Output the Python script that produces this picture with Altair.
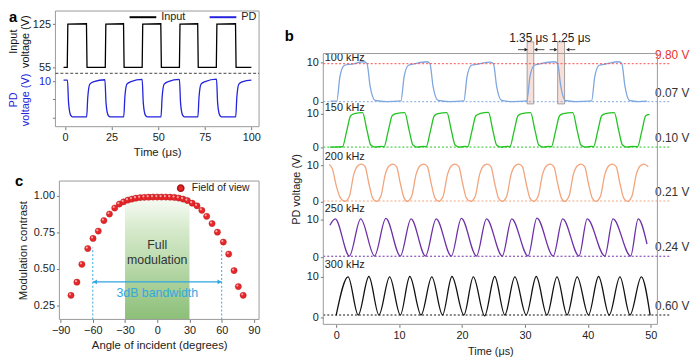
import altair as alt
import pandas as pd

# ---------------- data ----------------
# Panel a : input drive (V) and photodetector response (V) versus time (us)
a_input_t = [-0.8, 1.2, 1.5, 11.5, 11.8, 21.6, 21.9, 31.4, 31.7, 41.4, 41.7, 51.4, 51.7,
             61.4, 61.7, 71.2, 71.5, 81.2, 81.5, 91.5, 91.8, 100.0]
a_input_v = [55, 55, 125.5, 126, 55, 55, 125.5, 126, 55, 55, 125.5, 126, 55,
             55, 125.5, 126, 55, 55, 125.5, 126, 55, 55]
a_pd_t = [-0.8, 1.3, 1.9, 3.0, 4.0, 11.6, 12.2, 13.3, 15.5, 21.4, 22.0, 23.1, 24.1,
          31.5, 32.1, 33.2, 35.4, 41.4, 42.0, 43.1, 44.1, 51.5, 52.1, 53.2, 55.4,
          61.4, 62.0, 63.1, 64.1, 71.3, 71.9, 73.0, 75.2, 81.3, 81.9, 83.0, 84.0,
          91.6, 92.2, 93.3, 95.5, 100.0]
a_pd_v = [10.3, 10.3, 4.0, 0.6, 0.1, 0.1, 5.5, 9.2, 9.9, 10.4, 4.0, 0.6, 0.1,
          0.1, 5.5, 9.2, 9.9, 10.5, 4.0, 0.6, 0.1, 0.1, 5.5, 9.2, 9.9,
          10.5, 4.0, 0.6, 0.1, 0.1, 5.5, 9.2, 9.9, 10.6, 4.0, 0.6, 0.1,
          0.1, 5.5, 9.2, 9.9, 10.3]
a_x_ticks = [0, 25, 50, 75, 100]
a_series = ["Input", "PD"]

# Panel b : PD voltage at five modulation frequencies
b100_t = [-0.9,
          0.1, 0.6, 1.3, 2.5, 4.4, 4.9, 5.4, 6.2, 8.0,
          10.3, 10.8, 11.5, 12.5, 14.4, 14.9, 15.4, 16.2, 18.0,
          20.3, 20.8, 21.5, 22.5, 24.5, 25.0, 25.5, 26.3, 28.0,
          30.3, 30.8, 31.5, 32.5, 34.7, 35.2, 35.7, 36.4, 38.0,
          40.6, 41.1, 41.8, 42.8, 44.9, 45.4, 45.9, 46.6, 48.0,
          49.4]
b100_v = [0.2,
          0.2, 6.5, 9.4, 9.7, 10.3, 9.8, 4.0, 0.4, 0.1,
          0.3, 6.5, 9.4, 9.8, 10.3, 9.8, 4.0, 0.4, 0.1,
          0.3, 6.5, 9.4, 9.7, 10.2, 9.8, 4.0, 0.4, 0.1,
          0.3, 6.5, 9.4, 9.8, 10.3, 9.8, 4.0, 0.4, 0.1,
          0.3, 6.5, 9.4, 9.7, 10.3, 9.8, 4.0, 0.4, 0.1,
          0.2]
b150_t = [-1.0,
          1.0, 1.7, 2.3, 2.9, 4.2, 4.9, 5.5, 6.2, 7.2,
          7.6, 8.3, 8.9, 9.5, 10.9, 11.6, 12.2, 12.9, 13.9,
          14.3, 15.0, 15.6, 16.2, 17.6, 18.3, 18.9, 19.6, 20.6,
          20.9, 21.6, 22.2, 22.8, 24.2, 24.9, 25.5, 26.2, 27.2,
          27.6, 28.3, 28.9, 29.5, 30.9, 31.6, 32.2, 32.9, 33.9,
          34.2, 34.9, 35.5, 36.1, 37.6, 38.3, 38.9, 39.6, 40.6,
          40.9, 41.6, 42.2, 42.8, 44.2, 44.9, 45.5, 46.2, 47.2,
          47.9, 48.6, 49.2, 49.8]
b150_v = [0.1,
          0.2, 5.0, 9.3, 9.9, 10.2, 5.0, 0.7, 0.1, 0.3,
          0.2, 5.0, 9.3, 9.9, 10.2, 5.0, 0.7, 0.1, 0.3,
          0.2, 5.0, 9.3, 9.9, 10.2, 5.0, 0.7, 0.1, 0.3,
          0.2, 5.0, 9.3, 9.9, 10.3, 5.0, 0.7, 0.1, 0.3,
          0.2, 5.0, 9.3, 9.9, 10.2, 5.0, 0.7, 0.1, 0.3,
          0.2, 5.0, 9.3, 9.9, 10.2, 5.0, 0.7, 0.1, 0.3,
          0.2, 5.0, 9.3, 9.9, 10.2, 5.0, 0.7, 0.1, 0.3,
          0.2, 5.0, 9.3, 9.7]
b200_t = [-1.1, -0.6, 0.0, 0.7,
          1.4, 2.1, 2.8, 3.4, 4.0, 4.6, 5.2, 5.8,
          6.4, 7.1, 7.8, 8.4, 9.0, 9.6, 10.2, 10.8,
          11.3, 12.0, 12.7, 13.3, 13.9, 14.5, 15.1, 15.7,
          16.3, 17.0, 17.7, 18.3, 18.9, 19.5, 20.1, 20.7,
          21.4, 22.1, 22.8, 23.4, 24.0, 24.6, 25.2, 25.8,
          26.4, 27.1, 27.8, 28.4, 29.0, 29.6, 30.2, 30.8,
          31.4, 32.1, 32.8, 33.4, 34.0, 34.6, 35.2, 35.8,
          36.3, 37.0, 37.7, 38.3, 38.9, 39.5, 40.1, 40.7,
          41.3, 42.0, 42.7, 43.3, 43.9, 44.5, 45.1, 45.7,
          46.3, 47.0, 47.7, 48.3, 48.9, 49.6]
b200_v = [10.2, 9.0, 4.5, 1.0,
          0.1, 1.5, 7.5, 9.8, 10.3, 9.6, 5.0, 1.0,
          0.1, 1.5, 7.5, 9.8, 10.3, 9.6, 5.0, 1.0,
          0.1, 1.5, 7.5, 9.8, 10.3, 9.6, 5.0, 1.0,
          0.1, 1.5, 7.5, 9.8, 10.3, 9.6, 5.0, 1.0,
          0.1, 1.5, 7.5, 9.8, 10.3, 9.6, 5.0, 1.0,
          0.1, 1.5, 7.5, 9.8, 10.3, 9.6, 5.0, 1.0,
          0.1, 1.5, 7.5, 9.8, 10.3, 9.6, 5.0, 1.0,
          0.1, 1.5, 7.5, 9.8, 10.3, 9.6, 5.0, 1.0,
          0.1, 1.5, 7.5, 9.8, 10.3, 9.6, 5.0, 1.0,
          0.1, 1.5, 7.5, 9.8, 10.3, 9.6]
b250_t = [-1.0, -0.15, 2.1, 3.9, 6.1, 7.9, 10.2, 11.9, 14.2, 15.9, 18.3, 19.9, 22.3, 23.9,
          26.4, 27.9, 30.5, 31.9, 34.5, 36.0, 38.6, 39.9, 42.7, 44.0, 46.8, 48.0, 49.4]
b250_v = [8.5, 10.2, 0.3, 10.2, 0.3, 10.3, 0.3, 10.2, 0.3, 10.2, 0.3, 10.3, 0.3, 10.2,
          0.3, 10.2, 0.3, 10.4, 0.3, 10.2, 0.3, 10.2, 0.3, 10.2, 0.3, 10.2, 3.5]
b300_t = [0.0, 1.9, 3.5, 5.2, 6.8, 8.5, 10.2, 11.7, 13.5, 15.2, 16.9, 18.4, 20.3, 21.8,
          23.6, 25.2, 26.8, 28.4, 30.2, 31.8, 33.5, 35.1, 36.7, 38.3, 40.1, 41.7, 43.4,
          45.1, 46.7, 48.5, 49.9]
b300_v = [0.5, 10.0, 0.6, 10.1, 0.6, 10.0, 0.6, 10.1, 0.6, 10.0, 0.6, 10.1, 0.6, 10.0,
          0.4, 10.1, 0.6, 10.0, 0.6, 10.1, 0.6, 10.0, 0.6, 10.0, 0.6, 10.1, 0.6,
          10.0, 0.6, 10.0, 0.5]
b_names = ["100 kHz", "150 kHz", "200 kHz", "250 kHz", "300 kHz"]
b_colors = ["#7ea6df", "#22c422", "#f2a47c", "#6d2fa6", "#111111"]
b_low_levels = [0.07, 0.10, 0.21, 0.24, 0.60]
b_low_text = ["0.07 V", "0.10 V", "0.21 V", "0.24 V", "0.60 V"]
b_high_level = 9.80
b_high_text = "9.80 V"
b_name_y = [11.2, 11.6, 12.2, 12.9, 12.9]
b_x_ticks = [0, 10, 20, 30, 40, 50]
b_edge_x0 = [30.35, 35.2]
b_edge_x1 = [31.4, 36.3]
b_edge_text = ["1.35 μs", "1.25 μs"]
b_edge_text_x = [30.6, 37.3]
b_arrow_from = [28.9, 33.1, 33.9, 38.0]
b_arrow_to = [30.2, 31.7, 34.9, 36.8]
b_arrow_dir = ["r", "l", "r", "l"]

# Panel c : modulation contrast versus angle of incidence
c_angle = [-80.3, -74.8, -70.2, -64.7, -59.8, -54.9, -49.7, -44.5, -39.6, -35.3, -31.3, -27.3,
           -23.6, -19.9, -16, -12, -8, -4, 0, 4, 8, 12, 16, 20, 24, 28, 32.5, 37, 41.5, 46,
           51, 56, 61.5, 66.5, 71.5, 75.5, 80]
c_contrast = [0.318, 0.408, 0.53, 0.638, 0.707, 0.757, 0.829, 0.874, 0.915, 0.942, 0.957, 0.969,
              0.976, 0.982, 0.986, 0.988, 0.989, 0.99, 0.99, 0.99, 0.99, 0.989, 0.987, 0.983,
              0.976, 0.966, 0.948, 0.93, 0.899, 0.858, 0.809, 0.75, 0.682, 0.6, 0.487, 0.378, 0.318]
c_full_mod = [-30, 30]
c_bandwidth = [-60, 60]
c_bandwidth_y = 0.41
c_marker_top = 0.645
c_x_ticks = [-90, -60, -30, 0, 30, 60, 90]
c_y_ticks = [0.25, 0.50, 0.75, 1.00]

# ---------------- layout helpers ----------------
W, H = 692, 353
FONT = "Liberation Sans"
BLUE = "#2323dd"


def PX(p):
    return p - 8


def PY(p):
    return p - 8


def lscale(v0, p0, v1, p1, pa, pb, is_y=False):
    """linear scale through (v0,p0),(v1,p1) page px, spanning page px pa..pb"""
    k = (v1 - v0) / (p1 - p0)
    va = v0 + (pa - p0) * k
    vb = v0 + (pb - p0) * k
    rng = [PY(pa), PY(pb)] if is_y else [PX(pa), PX(pb)]
    return alt.Scale(domain=[va, vb], range=rng, nice=False, zero=False), va, vb


A_BOX = dict(l=56, t=9, r=262, b=126)
A_DIV = 72
B_BOX = dict(l=327, t=52, r=665, b=326)
C_BOX = dict(l=60, t=181, r=262, b=321)

a_x, _, _ = lscale(0, 65.7, 100, 254.2, A_BOX["l"], A_BOX["r"])
a_in_y, _, _ = lscale(55, 66, 125, 22.5, A_DIV, A_BOX["t"], True)
a_pd_y, _, _ = lscale(0, 116.5, 10, 80, A_BOX["b"], A_DIV, True)
b_x, b_left_val, b_right_val = lscale(0, 340, 50, 658.3, B_BOX["l"], B_BOX["r"])
b_y_pix = [(101, 61.5), (147, 112.5), (202, 165), (258, 220), (319, 278)]
b_y = [lscale(0, p0, 10, p10, B_BOX["b"], B_BOX["t"], True)[0] for p0, p10 in b_y_pix]
c_x, _, _ = lscale(-90, 61.2, 90, 256.8, C_BOX["l"], C_BOX["r"])
c_y, c_bot, _ = lscale(0.25, 306.7, 1.0, 195.7, C_BOX["b"], C_BOX["t"], True)
page_x = alt.Scale(domain=[8, 8 + W], range=[0, W], nice=False, zero=False)
page_y = alt.Scale(domain=[8, 8 + H], range=[0, H], nice=False, zero=False)


def bottom_off(page_y_pos):
    return PY(page_y_pos) - H


def left_off(page_x_pos):
    return -PX(page_x_pos)


def frame(box):
    fx, _, _ = lscale(0, box["l"], 1, box["r"], box["l"], box["r"])
    fy, _, _ = lscale(0, box["b"], 1, box["t"], box["b"], box["t"], True)
    df = pd.DataFrame({"x0": [0], "x1": [1], "y0": [0], "y1": [1]})
    return alt.Chart(df).mark_rect(fillOpacity=0, stroke="#9a9a9a", strokeWidth=1).encode(
        x=alt.X("x0:Q", scale=fx, axis=None), x2="x1:Q",
        y=alt.Y("y0:Q", scale=fy, axis=None), y2="y1:Q")


layers = []

# ---------------- panel a ----------------
layers.append(frame(A_BOX))
a_fx, _, _ = lscale(0, A_BOX["l"], 1, A_BOX["r"], A_BOX["l"], A_BOX["r"])
a_fy, _, _ = lscale(0, A_BOX["b"], 1, A_BOX["t"], A_BOX["b"], A_BOX["t"], True)
a_div_frac = (A_BOX["b"] - A_DIV) / (A_BOX["b"] - A_BOX["t"])
layers.append(alt.Chart(pd.DataFrame({"x0": [0], "x1": [1], "y": [a_div_frac]}))
              .mark_rule(color="#444444", strokeDash=[3, 2], strokeWidth=1)
              .encode(x=alt.X("x0:Q", scale=a_fx, axis=None), x2="x1:Q",
                      y=alt.Y("y:Q", scale=a_fy, axis=None)))

a_color = alt.Scale(domain=a_series, range=["#000000", BLUE])
a_in_df = pd.DataFrame({"t": a_input_t, "v": a_input_v, "series": "Input"})
layers.append(alt.Chart(a_in_df).mark_line(strokeWidth=1.3).encode(
    x=alt.X("t:Q", scale=a_x, axis=None),
    y=alt.Y("v:Q", scale=a_in_y,
            axis=alt.Axis(orient="left", offset=left_off(A_BOX["l"]), values=[55, 125],
                          title=None, labelFontSize=11, tickSize=3, labelPadding=2)),
    color=alt.Color("series:N", scale=a_color, legend=None)))

a_pd_df = pd.DataFrame({"t": a_pd_t, "v": a_pd_v, "series": "PD"})
layers.append(alt.Chart(a_pd_df).mark_line(strokeWidth=1.3, interpolate="monotone").encode(
    x=alt.X("t:Q", scale=a_x,
            axis=alt.Axis(orient="bottom", offset=bottom_off(A_BOX["b"]), values=a_x_ticks,
                          title="Time (μs)", labelFontSize=11, titleFontSize=11.5, tickSize=3,
                          labelPadding=2, titlePadding=4)),
    y=alt.Y("v:Q", scale=a_pd_y,
            axis=alt.Axis(orient="left", offset=left_off(A_BOX["l"]), values=[0, 5, 10],
                          labelExpr="datum.value == 10 ? '10' : ''", labelColor=BLUE,
                          title=None, labelFontSize=11, tickSize=3, labelPadding=2)),
    color=alt.Color("series:N", scale=a_color,
                    legend=alt.Legend(orient="none", legendX=PX(130), legendY=PY(14) - 13.5,
                                      direction="horizontal", title=None, symbolType="stroke",
                                      symbolSize=729, symbolStrokeWidth=2, labelFontSize=11,
                                      columnPadding=20, labelOffset=4, padding=0))))

# rotated y titles of panel a
a_ttl = pd.DataFrame({"x": [14.5, 26.5, 14.5, 26.5], "y": [40, 40, 99, 99],
                      "s": ["Input", "voltage (V)", "PD", "voltage (V)"],
                      "c": ["k", "k", "b", "b"]})
layers.append(alt.Chart(a_ttl).mark_text(angle=270, align="center", baseline="middle", fontSize=11).encode(
    x=alt.X("x:Q", scale=page_x, axis=None), y=alt.Y("y:Q", scale=page_y, axis=None), text="s:N",
    color=alt.Color("c:N", scale=alt.Scale(domain=["k", "b"], range=["#111111", BLUE]), legend=None)))

# ---------------- panel b ----------------
b_line_end = 53.2
b_label_x = 53.4
b_fy0 = b_y[0]

edge_df = pd.DataFrame({"x0": b_edge_x0, "x1": b_edge_x1, "y0": [-0.5, -0.5], "y1": [15.4, 15.4]})
layers.append(alt.Chart(edge_df).mark_rect(fill="#f8e0d8", stroke="#8a8a8a", strokeWidth=0.8).encode(
    x=alt.X("x0:Q", scale=b_x, axis=None), x2="x1:Q",
    y=alt.Y("y0:Q", scale=b_fy0, axis=None), y2="y1:Q"))

b_series = [(b100_t, b100_v), (b150_t, b150_v), (b200_t, b200_v), (b250_t, b250_v), (b300_t, b300_v)]
for i, (tt, vv) in enumerate(b_series):
    lvl = pd.DataFrame({"x0": [b_left_val], "x1": [b_line_end], "y": [b_low_levels[i]]})
    layers.append(alt.Chart(lvl).mark_rule(color=b_colors[i], strokeDash=[2, 2], strokeWidth=1).encode(
        x=alt.X("x0:Q", scale=b_x, axis=None), x2="x1:Q", y=alt.Y("y:Q", scale=b_y[i], axis=None)))
    if i == 2:
        ax_y = alt.Axis(orient="left", offset=left_off(B_BOX["l"]), values=[0, 10], labelFontSize=11,
                        tickSize=3, labelPadding=2, title="PD voltage (V)", titleFontSize=11,
                        titlePadding=5)
    else:
        ax_y = alt.Axis(orient="left", offset=left_off(B_BOX["l"]), values=[0, 10], labelFontSize=11,
                        tickSize=3, labelPadding=2, title=None)
    ax_x = None
    if i == 4:
        ax_x = alt.Axis(orient="bottom", offset=bottom_off(B_BOX["b"]), values=b_x_ticks,
                        title="Time (μs)", labelFontSize=11, titleFontSize=11, tickSize=3,
                        labelPadding=2, titlePadding=5)
    df = pd.DataFrame({"t": tt, "v": vv})
    layers.append(alt.Chart(df).mark_line(color=b_colors[i], strokeWidth=1.3, interpolate="monotone").encode(
        x=alt.X("t:Q", scale=b_x, axis=ax_x), y=alt.Y("v:Q", scale=b_y[i], axis=ax_y)))
    lab = pd.DataFrame({"x": [-1.8], "y": [b_name_y[i]], "s": [b_names[i]]})
    layers.append(alt.Chart(lab).mark_text(align="left", baseline="middle", fontSize=11, color="#222222").encode(
        x=alt.X("x:Q", scale=b_x, axis=None), y=alt.Y("y:Q", scale=b_y[i], axis=None), text="s:N"))
    rl = pd.DataFrame({"x": [b_label_x], "y": [b_low_levels[i]], "s": [b_low_text[i]]})
    layers.append(alt.Chart(rl).mark_text(align="center", baseline="bottom", dy=-2, fontSize=12,
                                          color="#333333").encode(
        x=alt.X("x:Q", scale=b_x, axis=None), y=alt.Y("y:Q", scale=b_y[i], axis=None), text="s:N"))

hi = pd.DataFrame({"x0": [b_left_val], "x1": [b_line_end], "y": [b_high_level], "s": [b_high_text],
                   "xl": [b_label_x]})
layers.append(alt.Chart(hi).mark_rule(color="#ff4a4a", strokeDash=[2, 2], strokeWidth=1).encode(
    x=alt.X("x0:Q", scale=b_x, axis=None), x2="x1:Q", y=alt.Y("y:Q", scale=b_fy0, axis=None)))
layers.append(alt.Chart(hi).mark_text(align="center", baseline="bottom", dy=-2, fontSize=12,
                                      color="#e8352b").encode(
    x=alt.X("xl:Q", scale=b_x, axis=None), y=alt.Y("y:Q", scale=b_fy0, axis=None), text="s:N"))

arr = pd.DataFrame({"x0": b_arrow_from, "x1": b_arrow_to, "y": [13.4] * 4, "d": b_arrow_dir})
layers.append(alt.Chart(arr).mark_rule(color="#222222", strokeWidth=0.8).encode(
    x=alt.X("x0:Q", scale=b_x, axis=None), x2="x1:Q", y=alt.Y("y:Q", scale=b_fy0, axis=None)))
layers.append(alt.Chart(arr).mark_point(filled=True, size=14, color="#222222", opacity=1).encode(
    x=alt.X("x1:Q", scale=b_x, axis=None), y=alt.Y("y:Q", scale=b_fy0, axis=None),
    shape=alt.Shape("d:N", scale=alt.Scale(domain=["r", "l"], range=["triangle-right", "triangle-left"]),
                    legend=None)))
et = pd.DataFrame({"x": b_edge_text_x, "y": [16.3, 16.3], "s": b_edge_text})
layers.append(alt.Chart(et).mark_text(align="center", baseline="middle", fontSize=12, color="#222222").encode(
    x=alt.X("x:Q", scale=b_x, axis=None), y=alt.Y("y:Q", scale=b_fy0, axis=None), text="s:N"))

layers.append(frame(B_BOX))

# ---------------- panel c ----------------
band = pd.DataFrame({"x0": [c_full_mod[0]], "x1": [c_full_mod[1]], "y0": [c_bot], "y1": [1.03]})
layers.append(alt.Chart(band).mark_rect(
    color=alt.LinearGradient(gradient="linear",
                             stops=[alt.GradientStop(color="#ffffff", offset=0),
                                    alt.GradientStop(color="#d6eacb", offset=0.3),
                                    alt.GradientStop(color="#8cbf78", offset=1)],
                             x1=0, x2=0, y1=0, y2=1)).encode(
    x=alt.X("x0:Q", scale=c_x, axis=None), x2="x1:Q",
    y=alt.Y("y0:Q", scale=c_y, axis=None), y2="y1:Q"))
layers.append(frame(C_BOX))

vl = pd.DataFrame({"x": c_bandwidth, "y0": [c_bot, c_bot], "y1": [c_marker_top, c_marker_top]})
layers.append(alt.Chart(vl).mark_rule(color="#2fa6e0", strokeDash=[2, 2], strokeWidth=1).encode(
    x=alt.X("x:Q", scale=c_x, axis=None), y=alt.Y("y0:Q", scale=c_y, axis=None), y2="y1:Q"))
bw = pd.DataFrame({"x0": [c_bandwidth[0]], "x1": [c_bandwidth[1]], "y": [c_bandwidth_y]})
layers.append(alt.Chart(bw).mark_rule(color="#2fa6e0", strokeWidth=1.3).encode(
    x=alt.X("x0:Q", scale=c_x, axis=None), x2="x1:Q", y=alt.Y("y:Q", scale=c_y, axis=None)))
heads = pd.DataFrame({"x": [c_bandwidth[0] + 2, c_bandwidth[1] - 2], "y": [c_bandwidth_y] * 2, "d": ["l", "r"]})
layers.append(alt.Chart(heads).mark_point(filled=True, size=22, color="#2fa6e0", opacity=1).encode(
    x=alt.X("x:Q", scale=c_x, axis=None), y=alt.Y("y:Q", scale=c_y, axis=None),
    shape=alt.Shape("d:N", scale=alt.Scale(domain=["r", "l"], range=["triangle-right", "triangle-left"]),
                    legend=None)))
ctext = pd.DataFrame({"x": [0, 0], "y": [0.663, 0.335], "s": ["Full\nmodulation", "3dB bandwidth"],
                      "c": ["k", "b"]})
layers.append(alt.Chart(ctext).mark_text(align="center", baseline="middle", fontSize=12.5, lineBreak="\n",
                                         lineHeight=15).encode(
    x=alt.X("x:Q", scale=c_x, axis=None), y=alt.Y("y:Q", scale=c_y, axis=None), text="s:N",
    color=alt.Color("c:N", scale=alt.Scale(domain=["k", "b"], range=["#333333", "#35a8e0"]), legend=None)))

c_df = pd.DataFrame({"a": c_angle, "m": c_contrast, "s": "Field of view"})
layers.append(alt.Chart(c_df).mark_circle(size=40, opacity=1, stroke="#a81616", strokeWidth=0.4).encode(
    x=alt.X("a:Q", scale=c_x,
            axis=alt.Axis(orient="bottom", offset=bottom_off(C_BOX["b"]), values=c_x_ticks,
                          title="Angle of incident (degrees)", labelFontSize=11, titleFontSize=11.5,
                          tickSize=3, labelPadding=2, titlePadding=4)),
    y=alt.Y("m:Q", scale=c_y,
            axis=alt.Axis(orient="left", offset=left_off(C_BOX["l"]), values=c_y_ticks, format=".2f",
                          title="Modulation contrast", labelFontSize=11, titleFontSize=11.5,
                          tickSize=3, labelPadding=2, titlePadding=5)),
    color=alt.Color("s:N", scale=alt.Scale(domain=["Field of view"], range=["#e8262a"]),
                    legend=alt.Legend(orient="none", legendX=PX(181) - 3.5, legendY=PY(189) - 6,
                                      title=None, symbolType="circle", symbolSize=40,
                                      labelFontSize=10.5, labelOffset=6, padding=0))))
# specular highlight on the spheres
layers.append(alt.Chart(c_df).mark_circle(size=5, opacity=0.75, color="#ffd0d0", xOffset=-1, yOffset=-1).encode(
    x=alt.X("a:Q", scale=c_x, axis=None), y=alt.Y("m:Q", scale=c_y, axis=None)))

# ---------------- panel letters ----------------
letters = pd.DataFrame({"x": [9, 288, 15], "y": [8, 27, 174], "s": ["a", "b", "c"]})
layers.append(alt.Chart(letters).mark_text(align="left", baseline="top", fontSize=15, fontWeight="bold",
                                           color="#000000").encode(
    x=alt.X("x:Q", scale=page_x, axis=None), y=alt.Y("y:Q", scale=page_y, axis=None), text="s:N"))

chart = (alt.layer(*layers)
         .resolve_scale(x="independent", y="independent", color="independent", shape="independent")
         .resolve_axis(x="independent", y="independent")
         .resolve_legend(color="independent", shape="independent")
         .properties(width=W, height=H, padding=0, autosize=alt.AutoSizeParams(type="none"))
         .configure(font=FONT)
         .configure_view(stroke=None)
         .configure_axis(grid=False, domain=False, labelFont=FONT, titleFont=FONT, labelColor="#222222",
                         titleColor="#222222", tickColor="#777777", titleFontWeight="normal",
                         labelFlush=False, labelOverlap=False)
         .configure_legend(labelFont=FONT, labelColor="#222222")
         .configure_text(font=FONT))

chart.save("out.html", embed_options={"renderer": "svg", "actions": False})
